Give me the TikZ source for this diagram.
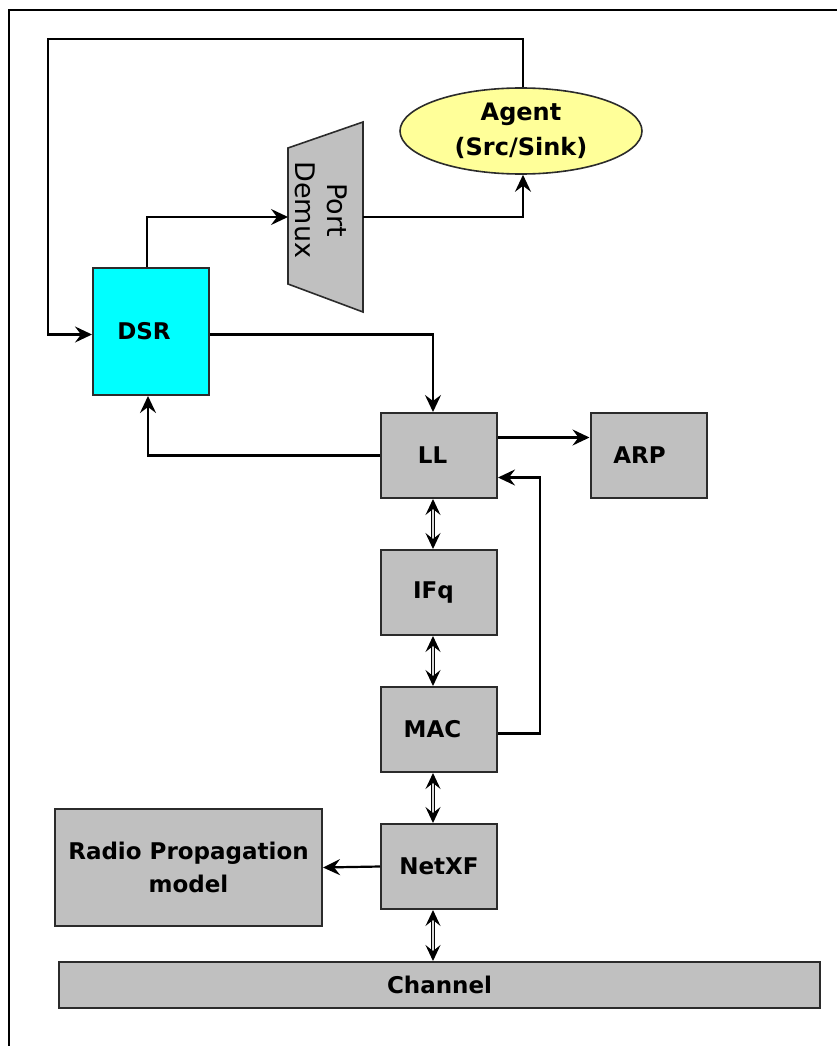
\documentclass[tikz,border=0pt]{standalone}
\usepackage{fontspec}
\setmainfont{DejaVu Sans}
\usetikzlibrary{positioning, arrows.meta, shapes.geometric}
\definecolor{boxgray}{HTML}{C0C0C0}
\definecolor{dsrcyan}{HTML}{00FFFF}
\definecolor{agentyellow}{HTML}{FFFF99}
\definecolor{edgegray}{HTML}{2B2B2B}

\begin{document}
\begin{tikzpicture}[x=1pt, y=-1pt, on grid, node distance=137pt,
        block/.style={draw=edgegray, line width=2pt, fill=boxgray,
            minimum width=116pt, minimum height=85pt, inner sep=0pt,
            font=\bfseries\fontsize{23}{27}\selectfont},
        link/.style={line width=2.2pt, -{Stealth[length=17pt, width=16pt, inset=6pt]}},
        duplex/.style={line width=1.3pt, double=boxgray!60, double distance=1.8pt,
            {Stealth[length=16pt, width=15pt, inset=6pt]}-{Stealth[length=16pt, width=15pt, inset=6pt]}}]
    \useasboundingbox (0,0) rectangle (837,1046);
    \draw[line width=2.2pt] (9,1046) -- (9,10) -- (837,10);

    \node[block, fill=dsrcyan, minimum height=127pt] (dsr) at (151,331.5) {\hspace*{-14pt}DSR};
    \node[block, ellipse, fill=agentyellow, line width=1.6pt, minimum width=242pt, minimum height=86pt,
        align=center, font=\bfseries\fontsize{24}{35}\selectfont] (agent) at (521,131) {Agent\\(Src/Sink)};
    \node[block] (ll) at (439,455.5) {\hspace*{-13pt}LL};
    \node[block] (arp) [right=209.5pt of ll] {\hspace*{-18pt}ARP};
    \node[block] (ifq) [below=of ll] {\hspace*{-11pt}IFq};
    \node[block] (mac) [below=of ifq] {\hspace*{-13pt}MAC};
    \node[block] (netxf) [below=of mac] {NetXF};
    \node[block, minimum width=267pt, minimum height=117pt, align=center,
        font=\bfseries\fontsize{23}{33}\selectfont] (radio) at (188.5,867.5) {Radio Propagation\\model};
    \node[block, minimum width=761pt, minimum height=46pt] (channel) at (439.5,985) {Channel};

    % port demux trapezoid
    \draw[draw=edgegray, line width=1.6pt, fill=boxgray] (288,148) -- (363,122) -- (363,312) -- (288,284) -- cycle;
    \node[rotate=-90, align=center, font=\fontsize{27}{32}\selectfont] (demux) at (321,210) {Port\\Demux};
    \coordinate (demux-in) at (288,217);
    \coordinate (demux-out) at (363,217);
    \coordinate (loop) at (48,39);

    \draw[link] ([xshift=-4pt]dsr.north) |- (demux-in);
    \draw[link] (demux-out) -| ([xshift=2pt]agent.south);
    \draw[link] ([xshift=2pt]agent.north) |- (loop) |- ([yshift=-3pt]dsr.west);
    \draw[link] ([yshift=-3pt]dsr.east) -| ([xshift=-6pt]ll.north);
    \draw[link] (ll.west) -| ([xshift=-3pt]dsr.south);
    \draw[link] ([yshift=18pt]ll.east) -- ([yshift=18pt]arp.west);
    \draw[link] ([yshift=-4pt]mac.east) -- ++(42,0) |- ([yshift=-22pt]ll.east);
    \draw[link] (netxf.west) -- (radio.east);

    \draw[duplex] ([xshift=-6pt]ll.south) -- ([xshift=-6pt]ifq.north);
    \draw[duplex] ([xshift=-6pt]ifq.south) -- ([xshift=-6pt]mac.north);
    \draw[duplex] ([xshift=-6pt]mac.south) -- ([xshift=-6pt]netxf.north);
    \draw[duplex] ([xshift=-6pt]netxf.south) -- ([xshift=-6pt]netxf.south |- channel.north);
\end{tikzpicture}
\end{document}
